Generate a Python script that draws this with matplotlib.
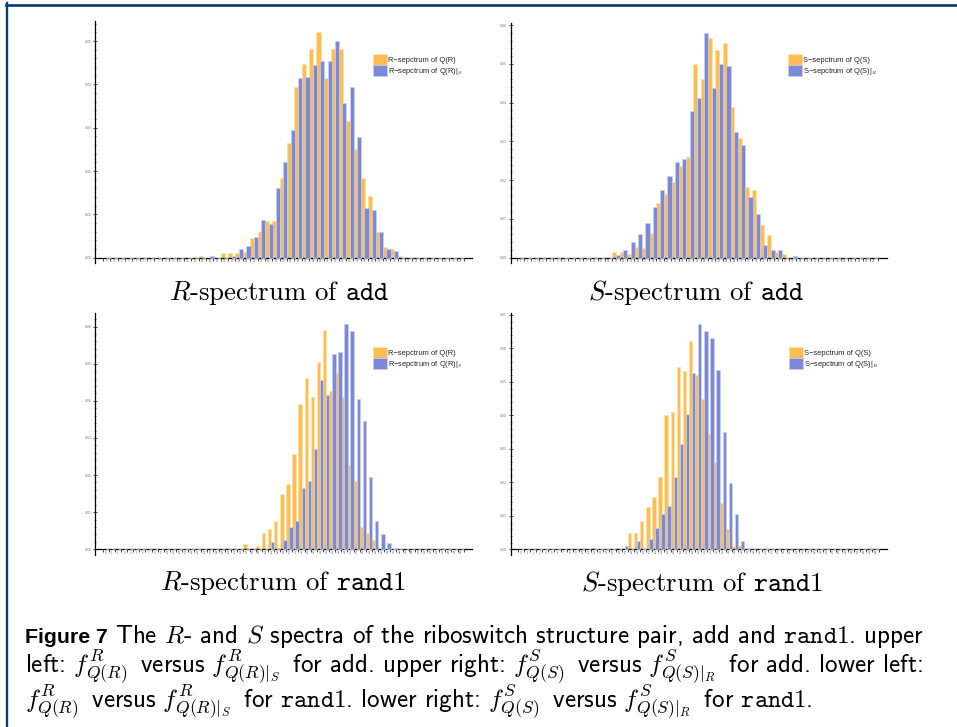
import matplotlib
matplotlib.use("Agg")
import matplotlib.pyplot as plt
from matplotlib.lines import Line2D

plt.rcParams['mathtext.fontset'] = 'cm'
plt.rcParams['axes.unicode_minus'] = False

# ---------------- data (relative frequencies) ----------------
tl_orange = [0, 0, 0, 0, 0, 0, 0, 0, 0, 0, 0, 0, 0,
             0.0005, 0, 0, 0.001, 0.001, 0.001, 0.0014, 0.0045, 0.0059, 0.0084, 0.0084,
             0.0185, 0.0264, 0.0395, 0.0448, 0.0481, 0.052, 0.0414, 0.0481, 0.0481, 0.0315,
             0.025, 0.0185, 0.0143, 0.006, 0.0024, 0.0019, 0.0005,
             0, 0, 0, 0, 0, 0, 0, 0]
tl_blue = [0, 0, 0, 0, 0, 0, 0, 0, 0, 0, 0, 0, 0,
           0, 0.0005, 0, 0, 0.0005, 0.0019, 0.0028, 0.0048, 0.0088, 0.0078, 0.016,
           0.022, 0.0295, 0.0414, 0.0418, 0.0444, 0.0455, 0.0455, 0.0499, 0.0358, 0.0395,
           0.0279, 0.0114, 0.0109, 0.006, 0.002, 0.0015, 0,
           0, 0, 0, 0, 0, 0, 0, 0]

tr_orange = [0, 0, 0, 0, 0, 0, 0, 0, 0, 0, 0, 0, 0,
             0.0014, 0.0014, 0.0009, 0.0028, 0.0024, 0.0065, 0.014, 0.0165, 0.0195, 0.0237,
             0.0261, 0.0501, 0.046, 0.0566, 0.0536, 0.0555, 0.039, 0.031, 0.0183, 0.0174,
             0.0084, 0.0058, 0.0014, 0.0009, 0,
             0, 0, 0, 0, 0, 0, 0, 0, 0, 0, 0]
tr_blue = [0, 0, 0, 0, 0, 0, 0, 0, 0, 0, 0, 0, 0,
           0.0007, 0.002, 0.004, 0.006, 0.0089, 0.013, 0.0175, 0.0211, 0.0246, 0.0255,
           0.0379, 0.0411, 0.0581, 0.0437, 0.0501, 0.0496, 0.0325, 0.0291, 0.0156, 0.0114,
           0.0034, 0.002, 0.002, 0, 0.0005,
           0, 0, 0, 0, 0, 0, 0, 0, 0, 0, 0]

bl_orange = [0, 0, 0, 0, 0, 0, 0, 0, 0, 0, 0, 0, 0, 0, 0, 0, 0, 0, 0, 0,
             0.0003, 0, 0, 0.0014, 0.0004, 0.0009, 0.0045, 0.0054, 0.0075, 0.015,
             0.0176, 0.0256, 0.0391, 0.0461, 0.0411, 0.0506, 0.0591, 0.0427, 0.0476, 0.0411,
             0.0226, 0.0184, 0.0059, 0.0045, 0.0025, 0.0004, 0, 0,
             0, 0, 0, 0, 0, 0, 0, 0, 0, 0, 0]
bl_blue = [0, 0, 0, 0, 0, 0, 0, 0, 0, 0, 0, 0, 0, 0, 0, 0, 0, 0, 0, 0,
           0, 0, 0, 0, 0, 0, 0, 0.0019, 0.0004, 0.0025,
           0.006, 0.0075, 0.0164, 0.0185, 0.027, 0.0456, 0.0416, 0.0527, 0.0531, 0.0606,
           0.0587, 0.0406, 0.0347, 0.0196, 0.0075, 0.004, 0.0016, 0.0004,
           0, 0, 0, 0, 0, 0, 0, 0, 0, 0, 0]

br_orange = [0, 0, 0, 0, 0, 0, 0, 0, 0, 0, 0, 0,
             0.0003, 0, 0, 0, 0.0003, 0.0003, 0.005, 0.005, 0.0086, 0.0125, 0.0155, 0.0215,
             0.0401, 0.0411, 0.0546, 0.0532, 0.0623, 0.0521, 0.045, 0.0345, 0.026, 0.0139,
             0.006, 0.001, 0.0013, 0,
             0, 0, 0, 0, 0, 0, 0, 0, 0, 0, 0, 0, 0, 0, 0, 0, 0, 0, 0, 0, 0]
br_blue = [0, 0, 0, 0, 0, 0, 0, 0, 0, 0, 0, 0,
           0, 0, 0, 0, 0, 0.001, 0, 0.0025, 0.0005, 0.003, 0.0065, 0.0106,
           0.0129, 0.0215, 0.0316, 0.0405, 0.0527, 0.0672, 0.0652, 0.0631, 0.0536, 0.0351,
           0.0199, 0.0106, 0.0025, 0.0004,
           0, 0, 0, 0, 0, 0, 0, 0, 0, 0, 0, 0, 0, 0, 0, 0, 0, 0, 0, 0, 0]

y_tick_labels = ["0.00", "0.01", "0.02", "0.03", "0.04", "0.05", "0.06", "0.07"]

legend_R = ["R\u2212sepctrum of Q(R)", "R\u2212sepctrum of Q(R)|$_{S}$"]
legend_S = ["S\u2212sepctrum of Q(S)", "S\u2212sepctrum of Q(S)|$_{R}$"]

panel_titles = [r"$R$-spectrum of $\mathtt{add}$", r"$S$-spectrum of $\mathtt{add}$",
                r"$R$-spectrum of $\mathtt{rand1}$", r"$S$-spectrum of $\mathtt{rand1}$"]

ORANGE = "#FDBD51"
BLUE = "#7C8AD6"
ORANGE_EDGE = "#FFE2AE"
BLUE_EDGE = "#C9D0F2"
NAVY = "#0B3B6F"

W, H = 957, 727
fig = plt.figure(figsize=(W / 100, H / 100), dpi=100)


def add_axes_px(x0, x1, ytop, ybot):
    return fig.add_axes([x0 / W, 1 - ybot / H, (x1 - x0) / W, (ybot - ytop) / H])


def draw_panel(ax, orange, blue, ymax, ymin, xlim, labels, legend_xy):
    n = len(orange)
    xs = list(range(n))
    ax.bar([x - 0.225 for x in xs], orange, width=0.56, color=ORANGE,
           edgecolor=ORANGE_EDGE, linewidth=0.5, label=labels[0], zorder=2)
    ax.bar([x + 0.275 for x in xs], blue, width=0.56, color=BLUE,
           edgecolor=BLUE_EDGE, linewidth=0.5, label=labels[1], zorder=3)
    ax.set_xlim(*xlim)
    ax.set_ylim(ymin, ymax)
    for s in ("top", "right"):
        ax.spines[s].set_visible(False)
    ax.spines["bottom"].set_position(("data", 0))
    ax.spines["left"].set_linewidth(0.9)
    ax.spines["bottom"].set_linewidth(0.9)
    # y ticks
    nt = int(ymax / 0.01 + 1e-9) + 1
    ax.set_yticks([0.01 * k for k in range(nt)])
    ax.set_yticklabels(y_tick_labels[:nt], fontsize=2.2, color="#666666")
    ax.set_yticks([0.002 * k for k in range(int(ymax / 0.002) + 1)], minor=True)
    ax.tick_params(axis="y", which="major", direction="inout", length=2.2, width=0.5, pad=1.5)
    ax.tick_params(axis="y", which="minor", direction="inout", length=1.2, width=0.4)
    # x ticks: boundaries as marks, labels at centres
    ax.set_xticks([x - 0.5 for x in xs] + [n - 0.45])
    ax.set_xticklabels([])
    ax.tick_params(axis="x", which="major", direction="out", length=1.8, width=0.5)
    ax.set_xticks([x + 0.025 for x in xs], minor=True)
    ax.set_xticklabels([str(x) for x in xs], minor=True, fontsize=1.8, color="#666666")
    ax.tick_params(axis="x", which="minor", length=0, pad=1.2)
    ax.patch.set_alpha(0)
    leg = ax.legend(loc="upper left", bbox_to_anchor=(legend_xy[0] / W, 1 - legend_xy[1] / H),
                    bbox_transform=fig.transFigure, frameon=False,
                    handlelength=1.9, handleheight=1.9, labelspacing=0.02,
                    handletextpad=0.15, borderpad=0, borderaxespad=0,
                    prop={"family": "Liberation Sans", "size": 5.4})
    for t in leg.get_texts():
        t.set_color("#222222")


ax1 = add_axes_px(95, 472, 20.7, 263.4)
draw_panel(ax1, tl_orange, tl_blue, 0.0547, -0.00132, (-1.56, 49.6), legend_R, (373, 54))
ax2 = add_axes_px(510.7, 887.3, 23.3, 263.4)
draw_panel(ax2, tr_orange, tr_blue, 0.0605, -0.00147, (-1.3, 49.85), legend_S, (788, 54))
ax3 = add_axes_px(95, 472, 313.3, 555.0)
draw_panel(ax3, bl_orange, bl_blue, 0.0636, -0.00154, (-1.75, 59.85), legend_R, (373, 346.7))
ax4 = add_axes_px(510.7, 887.3, 313.3, 555.0)
draw_panel(ax4, br_orange, br_blue, 0.0705, -0.0017, (-1.65, 59.95), legend_S, (789, 346.7))

# panel captions
for (cx, cy), txt in zip([(279, 293), (696, 293), (283, 583), (702, 583)], panel_titles):
    fig.text(cx / W, 1 - cy / H, txt, fontfamily="cmr10", fontsize=19.3,
             ha="center", va="center")

# frame lines
fig.add_artist(Line2D([6 / W, 1], [1 - 4.7 / H, 1 - 4.7 / H], color=NAVY, lw=1.95,
                      transform=fig.transFigure))
fig.add_artist(Line2D([7.2 / W, 7.2 / W], [0, 1 - 3.3 / H], color=NAVY, lw=1.7,
                      transform=fig.transFigure))

# figure caption
CAP_FS = 18
fig.text(25 / W, 1 - 643 / H, "Figure 7", fontfamily="Liberation Sans", fontweight="bold",
         fontsize=15.3, ha="left", va="baseline")
cap1 = (r"The $R$- and $S$ spectra of the riboswitch structure pair, add and "
        r"$\mathtt{rand1}$. upper")
cap2 = (r"left: $f^{R}_{Q(R)}\,$ versus $f^{R}_{Q(R)|_S}\,$ for add. upper right: "
        r"$f^{S}_{Q(S)}\,$ versus $f^{S}_{Q(S)|_R}\,$ for add. lower left:")
cap3 = (r"$f^{R}_{Q(R)}\,$ versus $f^{R}_{Q(R)|_S}\,$ for $\mathtt{rand1}$. lower right: "
        r"$f^{S}_{Q(S)}\,$ versus $f^{S}_{Q(S)|_R}\,$ for $\mathtt{rand1}$.")
fig.text(115 / W, 1 - 643 / H, cap1, fontfamily="cmss10", fontsize=CAP_FS, ha="left", va="baseline")
fig.text(25 / W, 1 - 673 / H, cap2, fontfamily="cmss10", fontsize=CAP_FS, ha="left", va="baseline")
fig.text(25 / W, 1 - 708 / H, cap3, fontfamily="cmss10", fontsize=CAP_FS, ha="left", va="baseline")

fig.savefig("out.png", dpi=100)
